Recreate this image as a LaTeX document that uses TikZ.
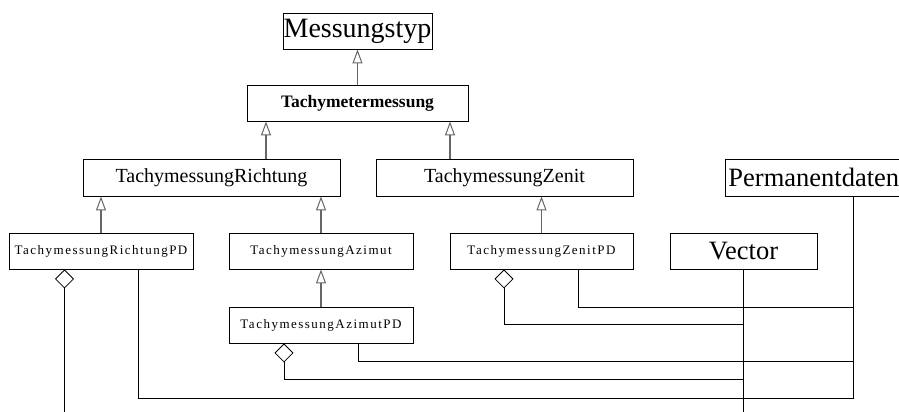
\documentclass[tikz,border=0pt]{standalone}
\usepackage{fontspec}
\setmainfont{Liberation Serif}
\usetikzlibrary{arrows.meta}

% font sizes used in the class boxes
\newcommand{\fhuge}{\fontsize{28}{30}\selectfont}
\newcommand{\flarge}{\fontsize{26.5}{28}\selectfont}
\newcommand{\fmid}{\fontsize{20}{22}\selectfont}
\newcommand{\fbold}{\fontsize{17.5}{19}\selectfont\bfseries}
\newcommand{\fsmall}{\fontsize{13}{15}\selectfont\addfontfeatures{LetterSpace=11.5}}

\tikzset{
  classbox/.style={draw=black, line width=0.9pt, rectangle, inner sep=0pt,
    minimum height=36pt, fill=white},
  inherit/.style={draw=black!60, line width=1.3pt,
    -{Triangle[open, length=14pt, width=10pt, line width=1pt]}},
  assoc/.style={draw=black, line width=0.9pt},
  aggr/.style={draw=black, line width=0.9pt,
    {Diamond[open, length=19pt, width=19pt, line width=0.8pt]}-},
}

\begin{document}
\begin{tikzpicture}[x=1pt, y=-1pt]
  \fill[white] (0,0) rectangle (899,412);
  \clip (0,0) rectangle (899,412);

  % class boxes
  \node[classbox, minimum width=149pt] (mt) at (357.5,31) {\fhuge Messungstyp};
  \node[classbox, minimum width=221pt] (tm) at (357.5,103) {\fbold Tachymetermessung};
  \node[classbox, minimum width=257pt, minimum height=37pt] (tr) at (211.5,177.5) {\fmid TachymessungRichtung};
  \node[classbox, minimum width=257pt, minimum height=37pt] (tz) at (504.5,177.5) {\fmid TachymessungZenit};
  \node[classbox, minimum height=37pt, anchor=west, inner xsep=3pt] (pd) at (725,177.5) {\flarge Permanentdaten};
  \node[classbox, minimum width=184pt] (rpd) at (101,251) {\fsmall TachymessungRichtungPD};
  \node[classbox, minimum width=184pt] (az) at (321,251) {\fsmall TachymessungAzimut};
  \node[classbox, minimum width=183pt] (zpd) at (541.5,251) {\fsmall TachymessungZenitPD};
  \node[classbox, minimum width=147pt] (vec) at (743.5,251) {\flarge Vector};
  \node[classbox, minimum width=184pt] (apd) at (321,325) {\fsmall TachymessungAzimutPD};

  % attachment point on Permanentdaten and loose ends at the lower edge
  \coordinate (pdp) at ([xshift=128pt]pd.south west);
  \coordinate (rend) at ([xshift=-36.5pt]rpd.south |- 0,412);
  \coordinate (vend) at (vec.south |- 0,412);

  % generalisations
  \draw[inherit] (tm.north) -- (mt.south);
  \draw[inherit] ([xshift=54.5pt]tr.north) -- ([xshift=-91.5pt]tm.south);
  \draw[inherit] ([xshift=-54.5pt]tz.north) -- ([xshift=92.5pt]tm.south);
  \draw[inherit] (rpd.north) -- (rpd.north |- tr.south);
  \draw[inherit] (az.north) -- (az.north |- tr.south);
  \draw[inherit] (zpd.north) -- (zpd.north |- tz.south);
  \draw[inherit] (apd.north) -- (az.south);

  % associations to Vector and Permanentdaten
  \draw[assoc] (vec.south) -- (vend);
  \draw[assoc] ([xshift=36.5pt]zpd.south) |- (pdp |- 0,307) -- (pdp);
  \draw[assoc] ([xshift=37pt]apd.south) |- (pdp |- 0,361) -- (pdp);
  \draw[assoc] ([xshift=37pt]rpd.south) |- (pdp |- 0,398) -- (pdp);

  % aggregations
  \draw[aggr] ([xshift=-37.5pt]zpd.south) |- (vec.south |- 0,324);
  \draw[aggr] ([xshift=-37pt]apd.south) |- (vec.south |- 0,379);
  \draw[aggr] ([xshift=-36.5pt]rpd.south) -- (rend);
\end{tikzpicture}
\end{document}
